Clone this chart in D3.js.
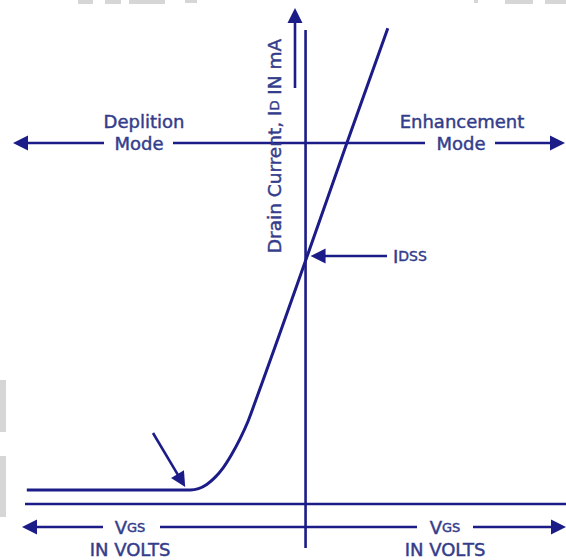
<!DOCTYPE html>
<html>
<head>
<meta charset="utf-8">
<script src="https://cdn.jsdelivr.net/npm/d3@7"></script>
<style>
  body { margin: 0; background: #fff; }
  svg text { font-family: "DejaVu Sans", Verdana, sans-serif; fill: #343d8b; stroke: #343d8b; stroke-width: 0.45px; }
</style>
</head>
<body>
<div id="chart"></div>
<script>
// transfer curve of a depletion/enhancement MOSFET
let vgs = [-5.05, -2.09, -1.94, -1.79, -1.64, -1.49, -1.34, -1.19, -1.04, -0.90, 0.03, 0.75, 1.49];
let idMa = [0, 0, 0.03, 0.12, 0.27, 0.48, 0.76, 1.09, 1.48, 1.93, 5.02, 7.45, 9.91];
let idss = 5.02;

let width = 566, height = 560;
let ink = "#1c1c88";

let xScale = d3.scaleLinear().domain([-5.3, 4.7]).range([13, 565]);
let yScale = d3.scaleLinear().domain([0, 10]).range([490, 24]);

let svg = d3.select("#chart").append("svg")
    .attr("width", width).attr("height", height);

// faint scan residue at the edges of the original
let smudges = [[78, 0, 15, 4], [105, 0, 16, 4], [129, 0, 36, 4], [185, 0, 12, 3],
    [474, 0, 4, 3], [505, 0, 28, 4], [545, 0, 21, 4], [0, 380, 6, 52], [0, 456, 6, 61]];
svg.selectAll(".smudge").data(smudges).join("rect").attr("class", "smudge")
    .attr("x", d => d[0]).attr("y", d => d[1]).attr("width", d => d[2]).attr("height", d => d[3])
    .attr("fill", "#d6d6d6");

let x0 = xScale(0);

// arrow heads
function head(x, y, dir) {
    let L = 15, W = 7.5, pts;
    if (dir === "l") pts = [[x, y], [x + L, y - W], [x + L, y + W]];
    else if (dir === "r") pts = [[x, y], [x - L, y - W], [x - L, y + W]];
    else pts = [[x, y], [x - W, y + L], [x + W, y + L]];
    svg.append("path").attr("d", "M" + pts.join("L") + "Z").attr("fill", ink);
}
function seg(xa, ya, xb, yb, w) {
    svg.append("line").attr("x1", xa).attr("y1", ya).attr("x2", xb).attr("y2", yb)
        .attr("stroke", ink).attr("stroke-width", w || 2.6);
}

// vertical axis (Vgs = 0)
seg(x0, 30, x0, 548);

// mode arrows
let modeY = 143;
seg(20, modeY, 104, modeY);
seg(173, modeY, 425, modeY);
seg(495, modeY, 556, modeY);
head(13, modeY, "l");
head(565, modeY, "r");

svg.append("text").attr("x", 144).attr("y", 121).attr("text-anchor", "middle")
    .attr("dominant-baseline", "central").style("font-size", "18px").text("Deplition");
svg.append("text").attr("x", 139).attr("y", 143).attr("text-anchor", "middle")
    .attr("dominant-baseline", "central").style("font-size", "18px").text("Mode");
svg.append("text").attr("x", 462).attr("y", 121).attr("text-anchor", "middle")
    .attr("dominant-baseline", "central").style("font-size", "18px").text("Enhancement");
svg.append("text").attr("x", 461).attr("y", 143).attr("text-anchor", "middle")
    .attr("dominant-baseline", "central").style("font-size", "18px").text("Mode");

// y label with arrow
let yl = svg.append("text").attr("transform", "translate(274,146) rotate(-90)")
    .attr("text-anchor", "middle").attr("dominant-baseline", "central")
    .style("font-size", "18.5px");
yl.append("tspan").text("Drain Current, I");
yl.append("tspan").style("font-size", "13px").text("D");
yl.append("tspan").text(" IN mA");
seg(295, 88, 295, 20);
head(295, 8, "u");

// horizontal reference line under the curve
seg(25, 504, 566, 504);

// Vgs arrows
let vY = 527;
seg(30, vY, 103, vY);
seg(160, vY, 417, vY);
seg(473, vY, 557, vY);
head(22, vY, "l");
head(566, vY, "r");

function vgsLabel(cx) {
    let t = svg.append("text").attr("x", cx).attr("y", vY).attr("text-anchor", "middle")
        .attr("dominant-baseline", "central").style("font-size", "18px");
    t.append("tspan").text("V");
    t.append("tspan").style("font-size", "13px").text("GS");
    svg.append("text").attr("x", cx).attr("y", 549).attr("text-anchor", "middle")
        .attr("dominant-baseline", "central").style("font-size", "18px").text("IN VOLTS");
}
vgsLabel(130);
vgsLabel(445);

// the transfer curve
let pts = vgs.map((v, i) => [xScale(v), yScale(idMa[i])]);
let line = d3.line().curve(d3.curveMonotoneX);
svg.append("path").attr("d", line(pts)).attr("fill", "none")
    .attr("stroke", ink).attr("stroke-width", 3);

// Idss pointer
let yIdss = yScale(idss);
seg(387, yIdss, 322, yIdss);
head(x0 + 5, yIdss, "l");
let it = svg.append("text").attr("x", 393).attr("y", yIdss).attr("dominant-baseline", "central")
    .style("font-size", "18px");
it.append("tspan").text("I");
it.append("tspan").style("font-size", "14px").text("DSS");

// pinch-off pointer
let kx = xScale(vgs[1]) - 5, ky = yScale(0) - 3;
let ang = Math.atan2(ky - 433, kx - 153);
seg(153, 433, kx - 13 * Math.cos(ang), ky - 13 * Math.sin(ang));
svg.append("path")
    .attr("d", "M0,0L-15,-7.5L-15,7.5Z")
    .attr("transform", "translate(" + kx + "," + ky + ") rotate(" + (ang * 180 / Math.PI) + ")")
    .attr("fill", ink);
</script>
</body>
</html>
